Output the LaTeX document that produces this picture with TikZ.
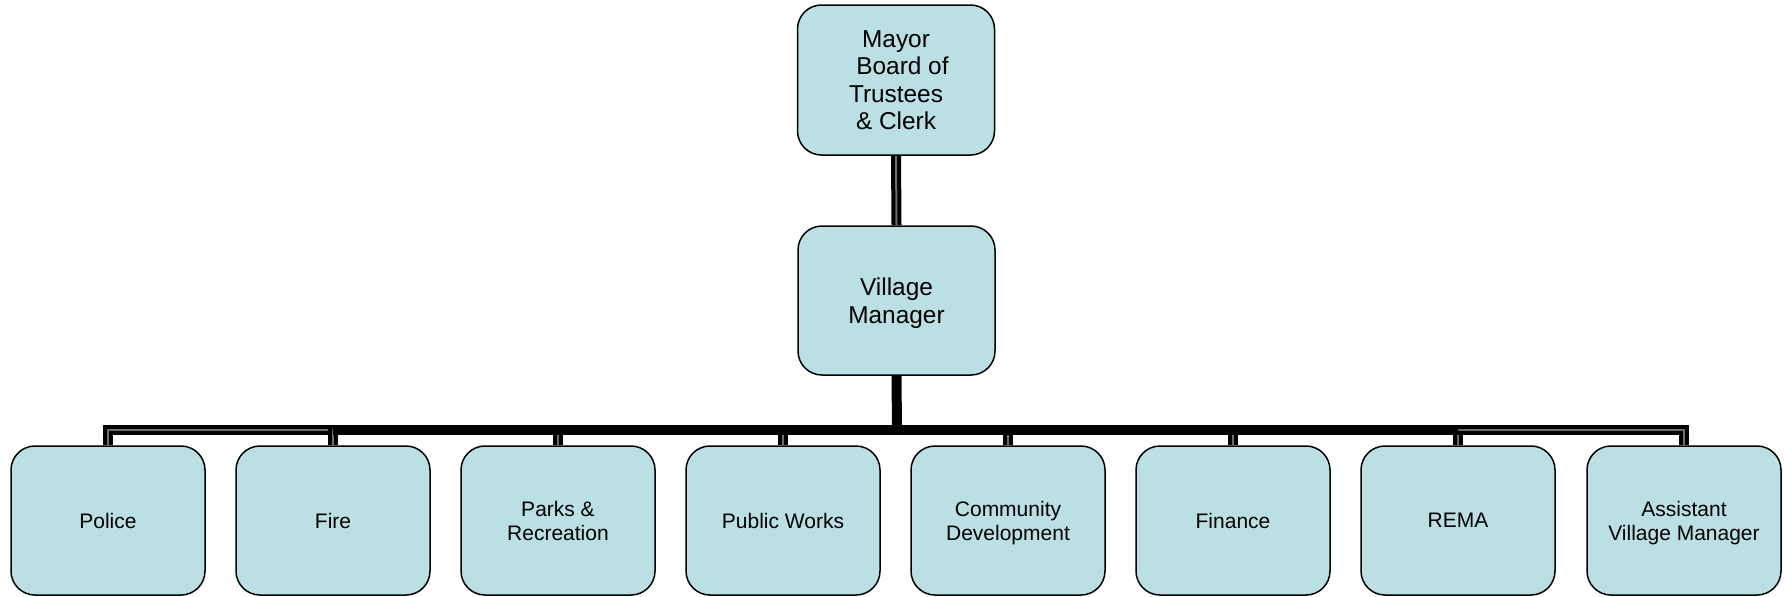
\documentclass[tikz,border=0pt]{standalone}
\usepackage{fontspec}
\setmainfont{Liberation Sans}
\definecolor{boxfill}{RGB}{187,224,227}
\definecolor{innerline}{RGB}{110,110,110}
\begin{document}
\begin{tikzpicture}[x=0.5pt,y=-0.5pt,
  box/.style={draw=black, line width=0.75pt, fill=boxfill, rounded corners=12pt,
    minimum width=97pt, minimum height=74.5pt, inner sep=0pt, align=center, text depth=0pt},
  topbox/.style={box, minimum width=98.5pt, font=\fontsize{12.2}{13.7}\selectfont},
  lowbox/.style={box, font=\fontsize{10.5}{12}\selectfont},
  dbl/.style={draw=black, line width=2pt, double=innerline, double distance=1pt, line join=miter},
  solidconn/.style={draw=black, line width=5pt}]
\useasboundingbox (0,0) rectangle (1784,596);
\node[topbox, minimum height=75pt] (mayor) at (896,80) {Mayor\\\hspace*{6.5pt}Board of\\Trustees\\\& Clerk};
\node[topbox, font=\fontsize{12.2}{14.2}\selectfont] (vm) at (896.5,300.5) {Village\\Manager};
\node[lowbox] (police) at (108,520.5) {Police};
\node[lowbox] (fire) at (333,520.5) {Fire};
\node[lowbox] (parks) at (558,520.5) {Parks \&\\Recreation};
\node[lowbox] (pw) at (783,520.5) {Public Works};
\node[lowbox] (cd) at (1008,520.5) {Community\\Development};
\node[lowbox] (fin) at (1233,520.5) {Finance};
\node[lowbox] (rema) at (1458,520.5) {REMA};
\node[lowbox] (avm) at (1684,520.5) {Assistant\\Village Manager};
\coordinate (bar) at (897,430);
\draw[dbl] (mayor.south) -- (vm.north);
\foreach \c in {police,fire,parks,pw,cd,fin,rema,avm}{
  \draw[dbl] (bar) -| (\c.north);
}
\draw[solidconn] (fire.north |- bar) -- (rema.north |- bar);
\draw[solidconn] (vm.south) -- (bar);
\end{tikzpicture}
\end{document}
